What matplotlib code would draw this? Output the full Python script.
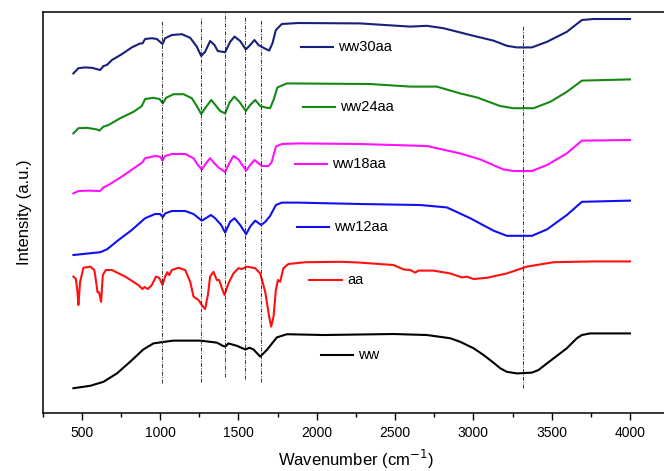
import matplotlib.pyplot as plt
from matplotlib.ticker import MultipleLocator

plt.rcParams['font.family'] = ['Liberation Sans', 'DejaVu Sans']

# FTIR spectra (wavenumber in cm-1, intensity in a.u., stacked)
wn_ww30aa = [446, 478, 521, 564, 617, 638, 660, 692, 755, 819, 872, 887, 904, 947, 979,
             1015, 1032, 1075, 1139, 1192, 1234, 1262, 1287, 1319, 1347, 1368, 1415, 1447,
             1475, 1511, 1547, 1575, 1602, 1628, 1660, 1696, 1717, 1739, 1777, 1883, 2277,
             2597, 2703, 2809, 2980, 3128, 3214, 3278, 3374, 3470, 3597, 3693, 3767, 4000]
ww30aa = [84.9, 86.2, 86.4, 86.3, 85.75, 86.75, 87.0, 88.25, 89.7, 91.4, 92.4, 92.4, 93.5,
          93.7, 93.5, 92.25, 93.7, 94.5, 94.7, 93.8, 91.6, 89.25, 90.3, 93.0, 92.0, 90.5,
          90.2, 92.8, 94.1, 93.0, 90.9, 92.0, 93.25, 92.0, 91.3, 90.6, 92.4, 95.75, 97.25,
          97.5, 97.4, 96.6, 96.8, 96.2, 94.5, 93.1, 91.8, 91.4, 91.4, 92.8, 95.3, 98.25,
          98.5, 98.5]

wn_ww24aa = [446, 478, 532, 596, 612, 638, 670, 745, 830, 883, 904, 957, 996, 1017, 1038,
             1085, 1149, 1202, 1234, 1262, 1287, 1326, 1358, 1383, 1415, 1443, 1473, 1506,
             1547, 1575, 1607, 1639, 1671, 1702, 1724, 1749, 1809, 2341, 2597, 2767, 2916,
             3022, 3171, 3256, 3384, 3491, 3597, 3693, 4000]
ww24aa = [69.9, 71.2, 71.3, 70.9, 70.6, 71.6, 72.0, 73.7, 75.3, 76.75, 78.5, 78.8, 78.5,
          77.4, 78.8, 79.7, 79.7, 78.7, 76.75, 74.75, 76.2, 78.25, 76.75, 75.5, 74.9, 77.6,
          79.1, 77.8, 75.5, 77.0, 78.25, 76.75, 76.4, 76.2, 78.25, 81.4, 82.4, 82.25, 81.6,
          81.6, 79.9, 78.9, 76.75, 76.2, 76.2, 77.8, 80.3, 83.1, 83.4]

wn_ww18aa = [446, 478, 542, 617, 638, 670, 755, 840, 887, 904, 968, 1000, 1015, 1032, 1075,
             1160, 1213, 1241, 1266, 1292, 1319, 1347, 1372, 1415, 1441, 1468, 1500, 1549,
             1575, 1602, 1628, 1650, 1692, 1713, 1739, 1777, 1883, 2277, 2703, 2916, 3044,
             3192, 3256, 3374, 3470, 3597, 3693, 4000]
ww18aa = [54.9, 55.5, 55.6, 55.5, 56.4, 57.0, 59.1, 61.4, 62.7, 63.7, 64.25, 64.1, 63.1,
          64.25, 64.75, 64.75, 63.7, 62.0, 60.9, 62.4, 63.7, 62.4, 61.4, 60.25, 62.4, 64.25,
          63.4, 60.6, 62.0, 63.25, 62.4, 61.75, 61.75, 62.8, 66.6, 67.25, 67.4, 67.25,
          66.75, 64.9, 63.4, 60.9, 60.5, 60.5, 62.0, 64.9, 68.1, 68.25]

wn_ww12aa = [446, 617, 660, 734, 819, 904, 968, 1000, 1017, 1032, 1075, 1160, 1213, 1266,
             1292, 1324, 1351, 1390, 1415, 1447, 1475, 1511, 1549, 1575, 1607, 1645, 1671,
             1702, 1739, 1777, 1883, 2277, 2660, 2831, 2980, 3128, 3214, 3374, 3470, 3597,
             3693, 4000]
ww12aa = [39.5, 40.2, 40.9, 43.25, 45.75, 48.7, 49.75, 49.75, 48.9, 49.9, 50.5, 50.5, 49.75,
          48.1, 48.7, 49.5, 48.7, 47.0, 45.1, 47.8, 48.7, 47.0, 44.7, 46.6, 48.1, 47.0,
          47.8, 49.25, 52.0, 52.6, 52.6, 52.25, 52.0, 51.4, 48.7, 45.6, 44.3, 44.3, 45.9,
          49.5, 52.8, 53.1]

wn_aa = [446, 462, 472, 478, 489, 510, 553, 580, 591, 600, 610, 623, 634, 653, 692, 777,
         861, 887, 900, 921, 947, 973, 994, 1015, 1032, 1045, 1058, 1075, 1117, 1160, 1192,
         1213, 1245, 1266, 1287, 1305, 1319, 1340, 1362, 1377, 1394, 1411, 1436, 1468, 1500,
         1522, 1554, 1607, 1639, 1671, 1696, 1709, 1724, 1739, 1752, 1766, 1787, 1819, 1926,
         2160, 2277, 2490, 2554, 2597, 2628, 2650, 2745, 2852, 2927, 2959, 3001, 3086, 3214,
         3342, 3512, 3767, 4000]
aa = [34.1, 33.5, 30.3, 27.0, 32.8, 36.3, 36.6, 35.75, 32.8, 30.2, 30.2, 27.8, 34.5, 35.75,
      35.75, 34.1, 32.0, 31.0, 31.5, 31.0, 32.0, 34.1, 33.8, 32.0, 34.1, 35.2, 34.5, 35.75,
      36.3, 35.75, 32.8, 29.1, 28.25, 27.0, 26.0, 29.5, 34.1, 35.3, 33.25, 33.25, 31.2,
      29.5, 32.4, 34.9, 36.2, 36.0, 36.6, 36.2, 34.9, 30.3, 24.1, 21.6, 24.1, 30.75, 33.25,
      32.8, 36.2, 37.25, 37.7, 37.8, 37.6, 37.0, 35.9, 35.75, 35.1, 35.6, 35.6, 34.9, 33.9,
      34.1, 33.5, 33.8, 34.9, 36.6, 37.7, 37.9, 37.9]

wn_ww = [446, 553, 638, 724, 808, 893, 957, 1017, 1085, 1255, 1362, 1400, 1417, 1436, 1490,
         1543, 1570, 1596, 1639, 1681, 1745, 1809, 2043, 2490, 2703, 2852, 2916, 3001, 3065,
         3128, 3171, 3214, 3278, 3374, 3416, 3470, 3597, 3661, 3693, 3746, 4000]
ww = [6.2, 6.8, 7.8, 9.9, 12.8, 15.9, 17.4, 17.75, 18.1, 18.1, 17.6, 16.8, 16.6, 17.4, 16.8,
      15.9, 16.3, 15.9, 14.1, 15.75, 18.9, 19.7, 19.5, 19.75, 19.5, 18.7, 17.8, 16.2, 14.5,
      12.6, 11.2, 10.3, 9.9, 10.1, 10.75, 12.4, 16.2, 18.7, 19.5, 19.9, 19.9]

# marker lines at characteristic bands
band_pos = [1013, 1260, 1417, 1545, 1643, 3316]
band_top = [98.1, 98.7, 100.0, 99.0, 98.5, 97.0]
band_bottom = [7.4, 7.8, 9.1, 8.5, 7.8, 6.3]

series = [
    ('ww30aa', wn_ww30aa, ww30aa, '#17207a'),
    ('ww24aa', wn_ww24aa, ww24aa, '#158815'),
    ('ww18aa', wn_ww18aa, ww18aa, '#ff10ff'),
    ('ww12aa', wn_ww12aa, ww12aa, '#1010f0'),
    ('aa', wn_aa, aa, '#ff1010'),
    ('ww', wn_ww, ww, '#000000'),
]
# label key placement: (line start, line end, y)
key_x0 = [1902, 1915, 1863, 1876, 1952, 2029]
key_x1 = [2106, 2119, 2067, 2080, 2163, 2233]
key_y = [91.4, 76.6, 62.2, 46.6, 33.25, 14.5]

fig = plt.figure(figsize=(6.64, 4.71), dpi=100)
ax = fig.add_axes([0.0643, 0.1231, 0.9434, 0.8514])

for (name, x, y, c), x0, x1, ky in zip(series, key_x0, key_x1, key_y):
    ax.plot(x, y, color=c, lw=1.5, solid_joinstyle='round')
    ax.plot([x0, x1], [ky, ky], color=c, lw=1.5)
    ax.text(x1 + 30, ky, name, fontsize=10.5, va='center', ha='left')

ax.vlines(band_pos, band_bottom, band_top, colors='#333333', lw=0.7,
          linestyles=(0, (4, 1.5, 1, 1.5)))

ax.set_xlim(250, 4250)
ax.set_ylim(0, 100.25)
ax.xaxis.set_major_locator(MultipleLocator(500))
ax.xaxis.set_minor_locator(MultipleLocator(250))
ax.tick_params(axis='x', which='major', direction='out', length=5, width=1, labelsize=10, pad=4)
ax.tick_params(axis='x', which='minor', direction='out', length=3, width=1)
ax.set_yticks([])
for s in ax.spines.values():
    s.set_linewidth(1.1)

ax.set_xlabel('Wavenumber (cm$^{-1}$)', fontsize=12, labelpad=6)
ax.set_ylabel('Intensity (a.u.)', fontsize=12, labelpad=8)

fig.savefig('out.png', dpi=100, facecolor='white')
